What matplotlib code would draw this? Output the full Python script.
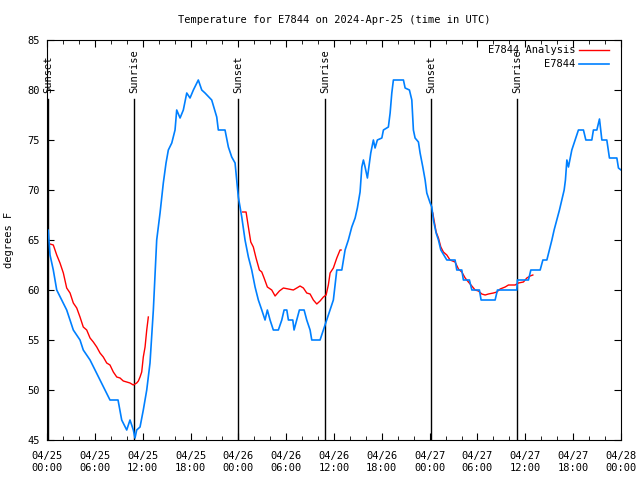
import numpy as np
import matplotlib
matplotlib.use('Agg')
import matplotlib.pyplot as plt

# hours since 2024-04-25 00:00 UTC
obs_hours = [0.0, 0.16, 0.38, 0.79, 1.22, 1.84, 2.47, 2.89, 3.30, 4.14, 4.55, 5.40, 6.02,
             6.65, 7.28, 7.90, 8.91, 9.37, 10.0, 10.41, 10.83, 11.04, 11.25, 11.67, 12.08,
             12.51, 12.92, 13.34, 13.76, 14.18, 14.59, 14.93, 15.22, 15.65, 16.06, 16.27,
             16.69, 17.10, 17.53, 17.94, 18.36, 18.98, 19.41, 19.82, 20.66, 21.29, 21.49,
             22.33, 22.75, 23.17, 23.59, 23.80, 24.00, 24.13, 24.43, 24.84, 25.26, 25.68,
             26.10, 26.51, 26.94, 27.35, 27.64, 27.98, 28.39, 29.02, 29.45, 29.74, 30.08,
             30.28, 30.83, 30.99, 31.33, 31.66, 32.25, 32.58, 33.00, 33.21, 34.25, 34.67,
             35.09, 35.51, 35.92, 36.35, 36.98, 37.39, 37.80, 38.23, 38.65, 38.93, 39.27,
             39.49, 39.69, 39.90, 40.19, 40.44, 40.61, 40.94, 41.15, 41.44, 42.00, 42.20,
             42.82, 43.04, 43.25, 43.45, 44.71, 44.92, 45.46, 45.76, 45.96, 46.17, 46.59,
             46.80, 47.14, 47.43, 47.64, 48.06, 48.27, 48.47, 48.81, 49.10, 49.40, 50.15,
             51.19, 51.40, 52.03, 52.23, 52.99, 53.29, 54.24, 54.45, 56.21, 56.50, 58.93,
             59.01, 60.39, 60.69, 61.86, 62.20, 62.70, 63.02, 63.33, 63.61, 63.95, 64.28,
             64.58, 64.87, 65.03, 65.21, 65.41, 65.83, 66.25, 66.66, 67.29, 67.59, 68.34,
             68.54, 68.97, 69.30, 69.60, 70.22, 70.55, 71.48, 71.68, 72.0]
obs_temp = [65.5, 66, 63.5, 62, 60, 59, 58, 57, 56, 55, 54, 53, 52,
            51, 50, 49, 49, 47, 46, 47, 46, 45.2, 46, 46.3, 48,
            50, 52.7, 58, 65, 67.7, 70.7, 72.7, 74, 74.7, 76, 78,
            77.2, 78, 79.7, 79.2, 80, 81, 80, 79.7, 79, 77.3, 76,
            76, 74.3, 73.3, 72.7, 71, 69.3, 68.7, 67.3, 65, 63.3, 62,
            60.3, 59, 58, 57, 58, 57, 56, 56, 57, 58, 58,
            57, 57, 56, 57, 58, 58, 57, 56, 55, 55, 56,
            57, 58, 59, 62, 62, 64, 65, 66.3, 67.2, 68.2, 69.8,
            72.3, 73, 72.3, 71.2, 72.7, 73.7, 75, 74.2, 75, 75.2, 76,
            76.3, 77.7, 79.7, 81, 81, 80.2, 80, 79, 76, 75.2, 74.8,
            73.7, 72.3, 71, 69.7, 68.7, 68.3, 67, 65.7, 65, 64, 63,
            63, 62, 62, 61, 61, 60, 60, 59, 59, 60, 60,
            61, 61, 62, 62, 63, 63, 64, 65, 66, 67, 68,
            69, 70, 71, 73, 72.3, 74, 75, 76, 76, 75, 75,
            76, 76, 77.1, 75, 75, 73.2, 73.2, 72.2, 72]

# analysis series, three separate pieces
ana1_hours = [0.38, 0.79, 1.22, 1.63, 2.05, 2.47, 2.89, 3.30, 3.73, 4.14, 4.55, 4.98, 5.40,
              5.81, 6.24, 6.65, 7.06, 7.49, 7.90, 8.32, 8.75, 9.16, 9.57, 10.0, 10.41,
              10.83, 11.25, 11.46, 11.67, 11.88, 12.08, 12.30, 12.51, 12.71]
ana1_temp = [64.6, 64.5, 63.5, 62.7, 61.7, 60.2, 59.7, 58.7, 58.2, 57.3, 56.3, 56, 55.2,
             54.8, 54.3, 53.7, 53.3, 52.7, 52.5, 51.8, 51.3, 51.2, 50.9, 50.8, 50.7,
             50.5, 50.7, 50.9, 51.3, 51.8, 53.3, 54.3, 56, 57.3]
ana2_hours = [24.55, 24.97, 25.26, 25.56, 25.88, 26.22, 26.64, 26.94, 27.23, 27.64, 28.19,
              28.61, 29.15, 29.65, 30.28, 30.90, 31.33, 31.74, 32.16, 32.58, 33.0, 33.41,
              33.84, 34.25, 34.67, 35.01, 35.29, 35.51, 35.92, 36.35, 36.76, 36.89]
ana2_temp = [67.8, 67.8, 66.3, 64.8, 64.3, 63.2, 62, 61.8, 61.2, 60.3, 60,
             59.4, 59.9, 60.2, 60.1, 60, 60.2, 60.4, 60.2, 59.7, 59.6, 59,
             58.6, 58.9, 59.3, 59.5, 60.5, 61.7, 62.2, 63.2, 64, 64]
ana3_hours = [48.39, 48.81, 49.10, 49.40, 49.72, 50.15, 50.56, 51.19, 51.61, 52.03, 52.45,
              52.86, 53.29, 53.70, 54.12, 54.54, 54.96, 55.37, 56.0, 56.42, 56.84, 57.47,
              57.88, 58.72, 59.13, 59.76, 60.19, 60.60, 60.94]
ana3_temp = [67.7, 65.8, 65.2, 64.3, 63.8, 63.5, 63, 62.8, 62.1, 61.8, 61.2,
             60.8, 60.4, 60, 59.9, 59.6, 59.5, 59.6, 59.7, 59.8, 60.1, 60.3,
             60.5, 60.5, 60.7, 60.8, 61.2, 61.4, 61.5]

sun_hours = [0.16, 10.92, 23.96, 34.88, 48.18, 58.97]
sun_names = ['Sunset', 'Sunrise', 'Sunset', 'Sunrise', 'Sunset', 'Sunrise']

tick_hours = list(range(0, 73, 6))
tick_labels = ['04/25\n00:00', '04/25\n06:00', '04/25\n12:00', '04/25\n18:00',
               '04/26\n00:00', '04/26\n06:00', '04/26\n12:00', '04/26\n18:00',
               '04/27\n00:00', '04/27\n06:00', '04/27\n12:00', '04/27\n18:00',
               '04/28\n00:00']

plt.rcParams['font.family'] = 'DejaVu Sans Mono'
plt.rcParams['font.size'] = 7

fig = plt.figure(figsize=(6.4, 4.8), dpi=100)
ax = fig.add_axes([47/640, 40/480, 574/640, 400/480])

blue = '#0080ff'
red = '#ff0000'

for h in sun_hours:
    ax.plot([h, h], [45, 79.1], color='black', lw=1.0)
for h, name in zip(sun_hours, sun_names):
    ax.text(h, 79.7, name, rotation=90, ha='center', va='bottom', fontsize=7.5)

for hh, tt in [(ana1_hours, ana1_temp), (ana2_hours, ana2_temp), (ana3_hours, ana3_temp)]:
    ax.plot(hh, tt, color=red, lw=1.0)
ax.plot(obs_hours, obs_temp, color=blue, lw=1.2)

ax.set_xlim(0, 72)
ax.set_ylim(45, 85)
ax.set_xticks(tick_hours)
ax.set_xticklabels(tick_labels)
ax.set_xticks(range(0, 73, 2), minor=True)
ax.set_yticks(range(45, 86, 5))
ax.tick_params(which='both', direction='in', top=True, right=True, labelsize=7.5)
ax.tick_params(which='major', length=5, pad=8)
ax.tick_params(which='minor', length=3)
ax.tick_params(axis='y', pad=5)
ax.set_ylabel('degrees F', fontsize=7.5, labelpad=10)
ax.set_title('Temperature for E7844 on 2024-Apr-25 (time in UTC)', fontsize=7.5, pad=12)

# key in the top right corner
ax.text(0.920, 0.975, 'E7844 Analysis', transform=ax.transAxes, ha='right', va='center', fontsize=7.5)
ax.plot([0.927, 0.979], [0.975, 0.975], transform=ax.transAxes, color=red, lw=1.0)
ax.text(0.920, 0.94, 'E7844', transform=ax.transAxes, ha='right', va='center', fontsize=7.5)
ax.plot([0.927, 0.979], [0.94, 0.94], transform=ax.transAxes, color=blue, lw=1.2)

fig.savefig('out.png', dpi=100)
